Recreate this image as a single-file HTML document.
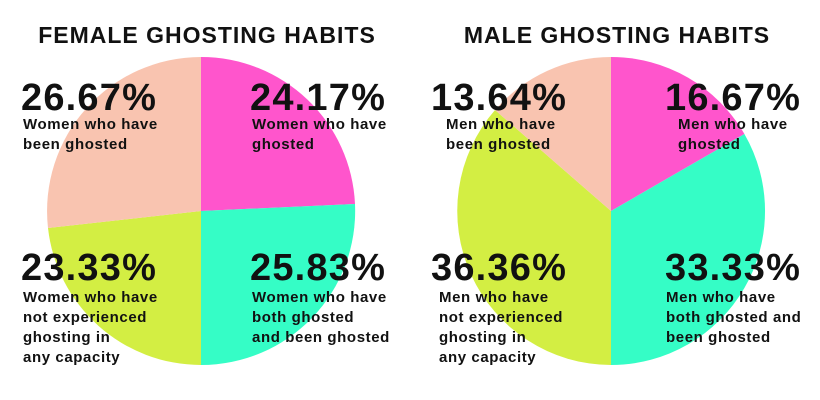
<!DOCTYPE html>
<html><head><style>body{margin:0;background:#fff}svg{display:block}</style></head><body>
<svg width="820" height="400" xmlns="http://www.w3.org/2000/svg" font-family="Liberation Sans, sans-serif" font-weight="bold" fill="#111">
<g transform="translate(201,211)">
<path d="M0,0 L0,-154 A154,154 0 0 1 154,-7 Z" fill="#ff55cc"/>
<path d="M0,0 L154,-7 A154,154 0 0 1 0,154 Z" fill="#35fdc6"/>
<path d="M0,0 L0,154 A154,154 0 0 1 -153,17 Z" fill="#d3ee43"/>
<path d="M0,0 L-153,17 A154,154 0 0 1 0,-154 Z" fill="#f9c4b0"/>
</g>
<g transform="translate(611,211)">
<path d="M0,0 L0,-154 A154,154 0 0 1 133.4,-77 Z" fill="#ff55cc"/>
<path d="M0,0 L133.4,-77 A154,154 0 0 1 0,154 Z" fill="#35fdc6"/>
<path d="M0,0 L0,154 A154,154 0 0 1 -116,-101 Z" fill="#d3ee43"/>
<path d="M0,0 L-116,-101 A154,154 0 0 1 0,-154 Z" fill="#f9c4b0"/>
</g>
<text x="207" y="43" font-size="23" letter-spacing="1" text-anchor="middle">FEMALE GHOSTING HABITS</text>
<text x="617" y="43" font-size="23" letter-spacing="1" text-anchor="middle">MALE GHOSTING HABITS</text>
<g font-size="38" letter-spacing="1.2">
<text x="21" y="110">26.67%</text>
<text x="250" y="110">24.17%</text>
<text x="21" y="280">23.33%</text>
<text x="250" y="280">25.83%</text>
<text x="431" y="110">13.64%</text>
<text x="665" y="110">16.67%</text>
<text x="431" y="280">36.36%</text>
<text x="665" y="280">33.33%</text>
</g>
<g font-size="15" letter-spacing="0.6">
<text x="23" y="129">Women who have</text><text x="23" y="149">been ghosted</text>
<text x="252" y="129">Women who have</text><text x="252" y="149">ghosted</text>
<text x="23" y="302">Women who have</text><text x="23" y="322">not experienced</text><text x="23" y="342">ghosting in</text><text x="23" y="362">any capacity</text>
<text x="252" y="302">Women who have</text><text x="252" y="322">both ghosted</text><text x="252" y="342">and been ghosted</text>
<text x="446" y="129">Men who have</text><text x="446" y="149">been ghosted</text>
<text x="678" y="129">Men who have</text><text x="678" y="149">ghosted</text>
<text x="439" y="302">Men who have</text><text x="439" y="322">not experienced</text><text x="439" y="342">ghosting in</text><text x="439" y="362">any capacity</text>
<text x="666" y="302">Men who have</text><text x="666" y="322">both ghosted and</text><text x="666" y="342">been ghosted</text>
</g>
</svg>
</body></html>
